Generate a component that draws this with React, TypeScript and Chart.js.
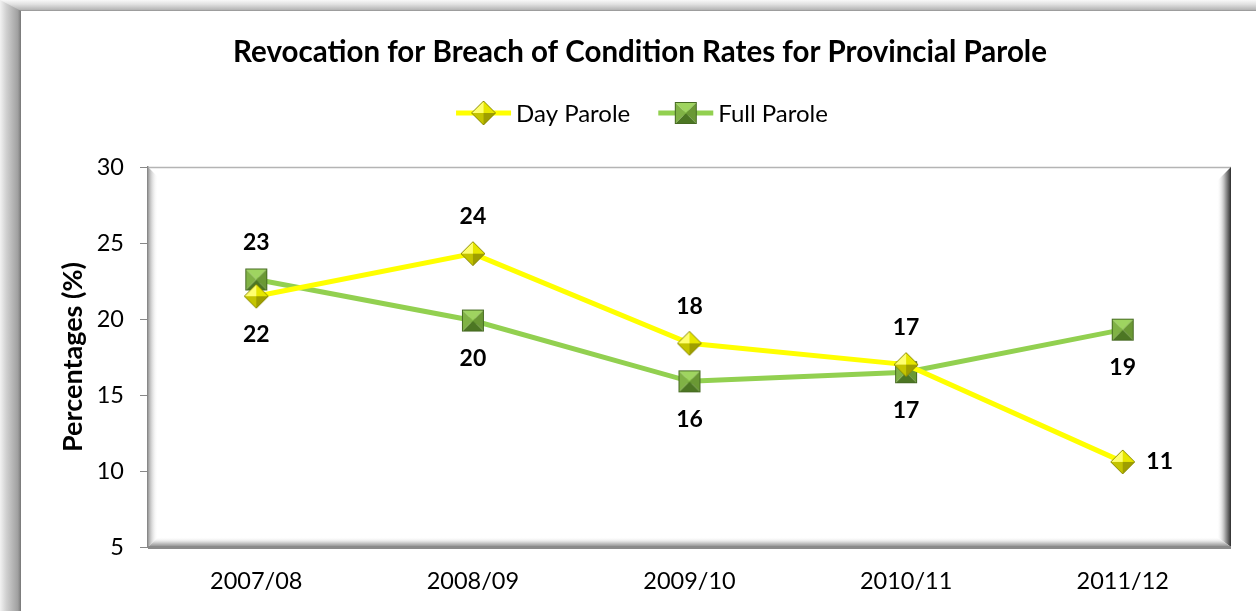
import { useEffect, useRef } from 'react';
import { Chart, registerables } from 'chart.js';

Chart.register(...registerables);

const FONT = 'Lato, "Open Sans", sans-serif';

const categories = ['2007/08', '2008/09', '2009/10', '2010/11', '2011/12'];
const dayParole = [21.5, 24.3, 18.4, 17.0, 10.6];
const fullParole = [22.6, 19.9, 15.9, 16.5, 19.3];
const dayLabelPos = ['below', 'above', 'above', 'above', 'right'];
const fullLabelPos = ['above', 'below', 'below', 'below', 'below'];
const seriesNames = ['Day Parole', 'Full Parole'];
const titleText = 'Revocation for Breach of Condition Rates for Provincial Parole';
const yTitle = 'Percentages (%)';

const YELLOW = '#FFFF00';
const GREEN = '#92D050';

function makeDiamond(): HTMLCanvasElement {
  const c = document.createElement('canvas');
  c.width = 26; c.height = 26;
  const g = c.getContext('2d')!;
  const cx = 13, cy = 13, r = 12;
  const tri = (ax: number, ay: number, bx: number, by: number, col: string) => {
    g.beginPath(); g.moveTo(cx, cy); g.lineTo(ax, ay); g.lineTo(bx, by); g.closePath();
    g.fillStyle = col; g.fill();
  };
  tri(cx - r, cy, cx, cy - r, '#ffff70');
  tri(cx, cy - r, cx + r, cy, '#e6e600');
  tri(cx + r, cy, cx, cy + r, '#9e9e00');
  tri(cx, cy + r, cx - r, cy, '#c4c400');
  g.beginPath(); g.moveTo(cx - r, cy); g.lineTo(cx, cy - r); g.lineTo(cx + r, cy); g.lineTo(cx, cy + r); g.closePath();
  g.strokeStyle = '#8c8c00'; g.lineWidth = 1; g.stroke();
  return c;
}

function makeSquare(): HTMLCanvasElement {
  const c = document.createElement('canvas');
  c.width = 24; c.height = 24;
  const g = c.getContext('2d')!;
  const x0 = 1, y0 = 1, s = 22, cx = 12, cy = 12;
  const tri = (ax: number, ay: number, bx: number, by: number, col: string) => {
    g.beginPath(); g.moveTo(cx, cy); g.lineTo(ax, ay); g.lineTo(bx, by); g.closePath();
    g.fillStyle = col; g.fill();
  };
  tri(x0, y0, x0 + s, y0, '#9fd460');
  tri(x0 + s, y0, x0 + s, y0 + s, '#6a9834');
  tri(x0 + s, y0 + s, x0, y0 + s, '#4c7623');
  tri(x0, y0 + s, x0, y0, '#80b245');
  g.strokeStyle = '#466a22'; g.lineWidth = 1;
  g.strokeRect(x0 + 0.5, y0 + 0.5, s - 1, s - 1);
  return c;
}

function makeFramePlugin(markers: HTMLCanvasElement[]) {
  return {
    id: 'frameDecor',
    beforeDraw(chart: any) {
      const { ctx, width, height } = chart;
      ctx.save();
      ctx.fillStyle = '#ffffff';
      ctx.fillRect(0, 0, width, height);
      let g = ctx.createLinearGradient(0, 0, 21, 0);
      g.addColorStop(0, '#f2f2f2');
      g.addColorStop(0.3, '#d0d0d0');
      g.addColorStop(0.85, '#a0a0a0');
      g.addColorStop(1, '#777777');
      ctx.fillStyle = g;
      ctx.fillRect(0, 0, 21, height);
      g = ctx.createLinearGradient(0, 0, 0, 11);
      g.addColorStop(0, '#f8f8f8');
      g.addColorStop(0.4, '#e0e0e0');
      g.addColorStop(0.9, '#b4b4b4');
      g.addColorStop(1, '#8a8a8a');
      ctx.fillStyle = g;
      ctx.beginPath();
      ctx.moveTo(0, 0); ctx.lineTo(width, 0); ctx.lineTo(width, 11); ctx.lineTo(21, 11); ctx.closePath();
      ctx.fill();
      ctx.restore();
    },
    beforeDatasetsDraw(chart: any) {
      const { ctx, chartArea } = chart;
      const L = chartArea.left, R = chartArea.right, T = chartArea.top, B = chartArea.bottom;
      const w = 10;
      ctx.save();
      ctx.strokeStyle = '#b4b4b4'; ctx.lineWidth = 1.5;
      ctx.beginPath(); ctx.moveTo(L, T + 0.5); ctx.lineTo(R, T + 0.5); ctx.stroke();
      let g = ctx.createLinearGradient(L, 0, L + w, 0);
      g.addColorStop(0, '#9a9a9a'); g.addColorStop(1, 'rgba(255,255,255,0)');
      ctx.fillStyle = g;
      ctx.beginPath(); ctx.moveTo(L, T); ctx.lineTo(L + w, T + w); ctx.lineTo(L + w, B - w); ctx.lineTo(L, B); ctx.closePath(); ctx.fill();
      g = ctx.createLinearGradient(R - w - 4, 0, R, 0);
      g.addColorStop(0, 'rgba(255,255,255,0)'); g.addColorStop(0.6, '#a0a0a0'); g.addColorStop(1, '#2e2e2e');
      ctx.fillStyle = g;
      ctx.beginPath(); ctx.moveTo(R, T); ctx.lineTo(R, B); ctx.lineTo(R - w - 4, B - w); ctx.lineTo(R - w - 4, T + w + 4); ctx.closePath(); ctx.fill();
      g = ctx.createLinearGradient(0, B - w, 0, B);
      g.addColorStop(0, 'rgba(255,255,255,0)'); g.addColorStop(0.6, '#c8c8c8'); g.addColorStop(1, '#888888');
      ctx.fillStyle = g;
      ctx.beginPath(); ctx.moveTo(L, B); ctx.lineTo(L + w, B - w); ctx.lineTo(R - w - 4, B - w); ctx.lineTo(R, B); ctx.closePath(); ctx.fill();
      ctx.fillStyle = '#8a8a8a';
      ctx.fillRect(L, B - 1, R - L, 3);
      ctx.restore();
    },
    afterDatasetsDraw(chart: any) {
      const { ctx } = chart;
      ctx.save();
      ctx.font = `bold 23px ${FONT}`;
      ctx.fillStyle = '#000';
      ctx.textAlign = 'center';
      ctx.textBaseline = 'middle';
      const positions = [dayLabelPos, fullLabelPos];
      chart.data.datasets.forEach((ds: any, i: number) => {
        const meta = chart.getDatasetMeta(i);
        meta.data.forEach((pt: any, j: number) => {
          let x = pt.x, y = pt.y;
          const p = positions[i][j];
          if (p === 'above') y -= 37;
          else if (p === 'below') y += 38;
          else if (p === 'right') x += 37;
          ctx.fillText(String(Math.round(ds.data[j])), x, y);
        });
      });
      ctx.restore();
    },
    afterDraw(chart: any) {
      const { ctx } = chart;
      ctx.save();
      ctx.fillStyle = '#000';
      ctx.font = `bold 29.5px ${FONT}`;
      ctx.textAlign = 'center';
      ctx.textBaseline = 'middle';
      ctx.fillText(titleText, 640, 52);
      ctx.font = `24px ${FONT}`;
      const lineLen = 55, gapText = 5, gapItems = 28;
      const colors = [YELLOW, GREEN];
      const widths = seriesNames.map((n) => lineLen + gapText + ctx.measureText(n).width);
      const total = widths[0] + gapItems + widths[1];
      let x = 642 - total / 2;
      const y = 113;
      ctx.textAlign = 'left';
      seriesNames.forEach((n, i) => {
        ctx.strokeStyle = colors[i];
        ctx.lineWidth = 5;
        ctx.beginPath(); ctx.moveTo(x, y); ctx.lineTo(x + lineLen, y); ctx.stroke();
        const m = markers[i];
        ctx.drawImage(m, x + lineLen / 2 - m.width / 2, y - m.height / 2);
        ctx.fillStyle = '#000';
        ctx.fillText(n, x + lineLen + gapText, y + 1);
        x += widths[i] + gapItems;
      });
      ctx.restore();
    },
  };
}

export default function App() {
  const ref = useRef<HTMLCanvasElement | null>(null);
  useEffect(() => {
    if (!ref.current) return;
    const diamond = makeDiamond();
    const square = makeSquare();
    const chart = new Chart(ref.current, {
      type: 'line',
      data: {
        labels: categories,
        datasets: [
          {
            label: seriesNames[0],
            data: dayParole,
            borderColor: YELLOW,
            backgroundColor: YELLOW,
            borderWidth: 5,
            pointStyle: diamond as any,
            tension: 0,
          },
          {
            label: seriesNames[1],
            data: fullParole,
            borderColor: GREEN,
            backgroundColor: GREEN,
            borderWidth: 5,
            pointStyle: square as any,
            tension: 0,
          },
        ],
      },
      options: {
        responsive: false,
        animation: false,
        devicePixelRatio: 1,
        layout: { padding: { top: 167, left: 20, right: 25, bottom: 0 } },
        plugins: {
          legend: { display: false },
          title: { display: false },
          tooltip: { enabled: false },
        },
        scales: {
          x: {
            offset: true,
            grid: { display: false, drawTicks: false },
            border: { display: false },
            ticks: { color: '#000', font: { family: FONT, size: 23.5 }, padding: 20 },
            afterFit: (s: any) => { s.height = 64; },
          },
          y: {
            min: 5,
            max: 30,
            ticks: { stepSize: 5, color: '#000', font: { family: FONT, size: 23.5 }, padding: 16 },
            grid: { display: true, drawOnChartArea: false, drawTicks: true, tickLength: 8, color: '#888' },
            border: { display: true, color: '#888', width: 1.5 },
            title: {
              display: true,
              text: yTitle,
              color: '#000',
              font: { family: FONT, size: 27, weight: 'bold' },
              padding: { top: 37, bottom: 0 },
            },
            afterFit: (s: any) => { s.width = 128; },
          },
        },
      },
      plugins: [makeFramePlugin([diamond, square])],
    });
    return () => chart.destroy();
  }, []);
  return (
    <div style={{ position: 'fixed', left: 0, top: 0, width: 1256, height: 611, background: '#fff' }}>
      <canvas ref={ref} width={1256} height={611} style={{ display: 'block' }} />
    </div>
  );
}
